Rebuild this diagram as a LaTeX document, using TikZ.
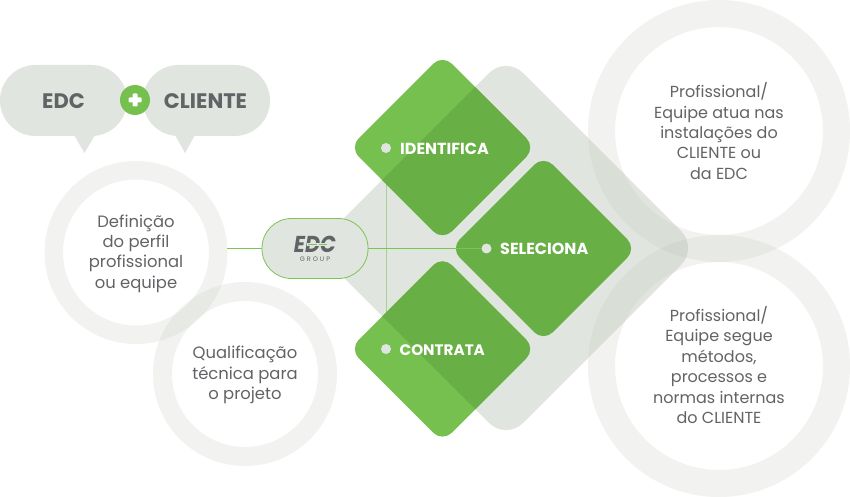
\documentclass[tikz,border=0pt]{standalone}
\usepackage{fontspec}
\setmainfont{Poppins}
\definecolor{ringalpha}{HTML}{B8C2AE}
\definecolor{grayc}{HTML}{E1E5DF}
\definecolor{greenl}{HTML}{76C04F}
\definecolor{greend}{HTML}{68AF45}
\definecolor{linec}{HTML}{7AC555}
\definecolor{linev}{HTML}{A5D38D}
\definecolor{textc}{HTML}{626366}
\tikzset{
 ringshape/.style={fill=ringalpha,fill opacity=0.18,even odd rule},
 ringtext/.style={text=textc,font=\fontsize{16}{20.4}\selectfont,align=center,inner sep=0pt},
 ringtextl/.style={ringtext,font=\fontsize{16.4}{20.4}\selectfont},
 heading/.style={text=textc,font=\fontsize{21}{22}\selectfont\bfseries,inner sep=0pt},
 steplabel/.style={text=white,font=\fontsize{16}{18}\selectfont\bfseries,inner sep=0pt,anchor=west},
 stepdot/.style={circle,fill=grayc,minimum size=10pt,inner sep=0pt},
 link/.style={draw=linec,line width=0.9pt},
}
\begin{document}
\begin{tikzpicture}[x=1pt,y=-1pt]
\useasboundingbox (0,0) rectangle (850,497);
\fill[white] (0,0) rectangle (850,497);
% big grey diamond
\def\bigd{[rounded corners=24pt] (506,56) -- (698,248) -- (506,440) -- (314,248) -- cycle}
\fill[grayc] \bigd;
% rings
\fill[ringshape] (136,252.5) circle (91.5) (136,252.5) circle (73);
\fill[ringshape] (245,374) circle (92) (245,374) circle (73);
\fill[ringshape] (719,131) circle (131) (719,131) circle (104);
\fill[ringshape] (719,366) circle (131) (719,366) circle (104);
% connector anchors
\coordinate (c1) at (386,148);
\coordinate (c3) at (386,349);
\draw[draw=linev,line width=0.9pt] (c1) -- (c3);
% green diamonds
\def\dia#1#2{[rounded corners=13pt] (#1,#2-93) -- (#1+93,#2) -- (#1,#2+93) -- (#1-93,#2) -- cycle}
\fill[greenl] \dia{442.5}{147.5};
\fill[greenl] \dia{442.5}{349};
\fill[greend] \dia{543.5}{248.5};
\begin{scope}
\clip \bigd;
\fill[greend] \dia{442.5}{147.5};
\fill[greend] \dia{442.5}{349};
\end{scope}
% bubbles
\fill[grayc,rounded corners=35.5pt] (0,65) rectangle (127,136);
\fill[grayc] (74,135) -- (84.5,153) -- (95,135) -- cycle;
\fill[grayc,rounded corners=35.5pt] (143,65) rectangle (270,136);
\fill[grayc] (175,135) -- (185,153) -- (195,135) -- cycle;
\node[heading] (edc) at (63.5,101) {EDC};
\node[heading] (cli) at (205.5,101) {CLIENTE};
\node[circle,fill=greenl,minimum size=30pt,inner sep=0pt] (plus) at (135,100) {};
\fill[white,rounded corners=1pt] (128.5,97.5) rectangle (141.5,102.5);
\fill[white,rounded corners=1pt] (132.5,93.5) rectangle (137.5,106.5);
% nodes
\node[stepdot] (d1) at (c1) {};
\node[stepdot] (d2) at (486.5,248.5) {};
\node[stepdot] (d3) at (c3) {};
\node[draw=linec,fill=grayc,line width=0.8pt,rounded corners=29.5pt,minimum width=106pt,minimum height=60pt,inner sep=0pt,align=center,text=textc,font=\fontsize{6.5}{8.8}\selectfont] (hub) at (315,248.5) {{\fontsize{23}{8.8}\selectfont\bfseries\itshape\addfontfeature{FakeStretch=0.9}EDC}\\{\addfontfeature{LetterSpace=30}GROUP}};
\fill[grayc] (307,243) rectangle (328,246);
\draw[draw=linec,line width=1pt] (308,244.5) -- (317,244.5) (319,244.5) -- (327,244.5);
\coordinate (left) at (227,248);
\draw[link] (left) -- (hub.west |- left);
\draw[link] (hub.east |- left) -- (d2.west |- left);
\node[steplabel] at (400,148.5) {IDENTIFICA};
\node[steplabel] at (500,249) {SELECIONA};
\node[steplabel,font=\fontsize{15.2}{18}\selectfont\bfseries] at (399.5,350) {CONTRATA};
\node[ringtextl] at (136,253.5) {Definição\\do perfil\\profissional\\ou equipe};
\node[ringtextl] at (245,375) {Qualificação\\técnica para\\o projeto};
\node[ringtext] at (719,131) {Profissional/\\Equipe atua nas\\instalações do\\CLIENTE ou\\da EDC};
\node[ringtext] at (719,365) {Profissional/\\Equipe segue\\métodos,\\processos e\\normas internas\\do CLIENTE};
\end{tikzpicture}
\end{document}
